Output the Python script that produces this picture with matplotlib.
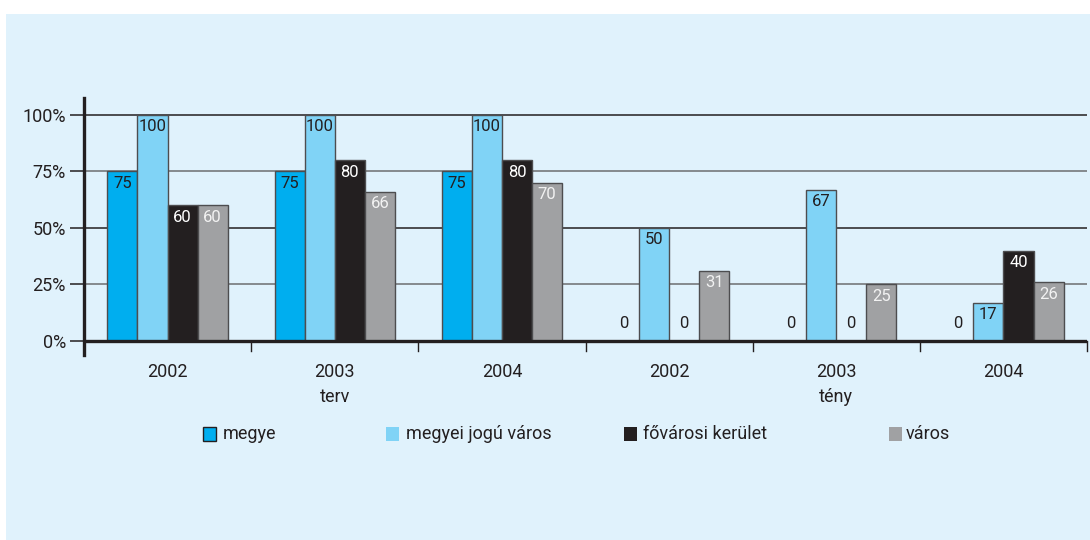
import matplotlib
matplotlib.use("Agg")
import matplotlib.pyplot as plt
from matplotlib.patches import Rectangle
import numpy as np

plt.rcParams['font.family'] = ['Roboto', 'DejaVu Sans']

# Data
groups = ["2002", "2003\nterv", "2004", "2002", "2003\ntény", "2004"]
series_names = ["megye", "megyei jogú város", "fővárosi kerület", "város"]
megye = [75, 75, 75, 0, 0, 0]
megyei_jogu_varos = [100, 100, 100, 50, 67, 17]
fovarosi_kerulet = [60, 80, 80, 0, 0, 40]
varos = [60, 66, 70, 31, 25, 26]
yticks = [0, 25, 50, 75, 100]
ytick_labels = ["0%", "25%", "50%", "75%", "100%"]

series = [megye, megyei_jogu_varos, fovarosi_kerulet, varos]
colors = ["#00aeef", "#80d3f6", "#231f20", "#a0a1a3"]
label_colors = ["#231f20", "#231f20", "#ffffff", "#f2f2f2"]
dark = "#231f20"
panel = "#e0f2fc"

W, H = 1090, 540
fig = plt.figure(figsize=(W / 100, H / 100), dpi=100, facecolor="white")

# light blue panel
fig.patches.append(Rectangle((6 / W, 0), 1 - 6 / W, 1 - 14 / H,
                             transform=fig.transFigure, facecolor=panel,
                             edgecolor="none", zorder=-10))

ax = fig.add_axes([84 / W, 1 - 355 / H, (1087 - 84) / W, (355 - 98) / H])
ax.set_facecolor("none")
ax.set_xlim(-0.5, 5.5)
ax.set_ylim(-6.2, 107.5)

# gridlines
grid_cols = {25: "#6d6e70", 50: dark, 75: "#6d6e70", 100: dark}
for yv, c in grid_cols.items():
    ax.axhline(yv, color=c, lw=1.1, zorder=0)

x = np.arange(len(groups))
w = 0.18
fs_val = 12
for i, (vals, col, lc) in enumerate(zip(series, colors, label_colors)):
    xs = x + (i - 1.5) * w
    ax.bar(xs, vals, width=w, color=col, edgecolor="#4d4d4f", linewidth=1.0,
           zorder=2, label=series_names[i])
    for xi, v in zip(xs, vals):
        if v == 0:
            ax.text(xi, 7.7, "0", ha="center", va="center", fontsize=fs_val,
                    color=dark, zorder=4)
        else:
            ax.text(xi, v - 2.0, f"{v}", ha="center", va="top",
                    fontsize=fs_val, color=lc, zorder=4)

# baseline
ax.axhline(0, color=dark, lw=2.4, zorder=3)

# group separator ticks below the baseline
for xv in np.arange(0.5, 5.6, 1.0):
    ax.plot([xv, xv], [0, -4.6], color=dark, lw=1.0, clip_on=False, zorder=3)

for s in ["top", "right", "bottom"]:
    ax.spines[s].set_visible(False)
ax.spines["left"].set_linewidth(2.4)
ax.spines["left"].set_color(dark)

ax.set_yticks(yticks)
ax.set_yticklabels(ytick_labels)
ax.tick_params(axis="y", length=10, width=1.1, color=dark, labelsize=13,
               labelcolor=dark, pad=3)
ax.set_xticks(x)
ax.set_xticklabels(groups, linespacing=1.45)
ax.tick_params(axis="x", length=0, labelsize=13, labelcolor=dark, pad=6)

# legend
leg_sq = [203, 386, 624, 889]
leg_tx = [223, 406, 643, 906]
ly = 434
for sx, tx, col, name, i in zip(leg_sq, leg_tx, colors, series_names, range(4)):
    ec = dark if i == 0 else "none"
    fig.patches.append(Rectangle((sx / W, 1 - (ly + 7) / H), 13 / W, 14 / H,
                                 transform=fig.transFigure, facecolor=col,
                                 edgecolor=ec, linewidth=1.0))
    fig.text(tx / W, 1 - ly / H, name, ha="left", va="center", fontsize=13,
             color=dark)

fig.savefig("out.png", dpi=100, facecolor=fig.get_facecolor())
